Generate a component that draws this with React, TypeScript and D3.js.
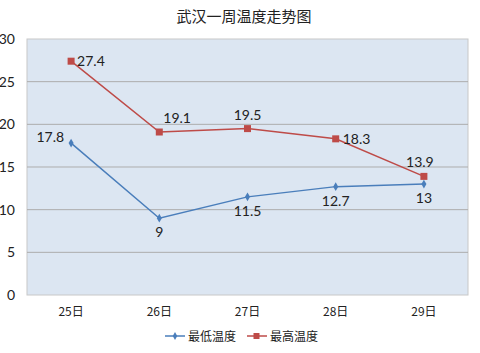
import React from 'react';
import * as d3 from 'd3';

const days = ['25日', '26日', '27日', '28日', '29日'];
const lowTemps = [17.8, 9, 11.5, 12.7, 13];
const highTemps = [27.4, 19.1, 19.5, 18.3, 13.9];
const yTicks = [0, 5, 10, 15, 20, 25, 30];

// label placement per point: [dx, dy, anchor]
const lowLabelPos: [number, number, string][] = [
  [-7, -1, 'end'], [0, 19, 'middle'], [0, 19, 'middle'], [0, 19, 'middle'], [0, 19, 'middle'],
];
const highLabelPos: [number, number, string][] = [
  [6, 5, 'start'], [4, -9, 'start'], [0, -9, 'middle'], [7, 5, 'start'], [-4, -9, 'middle'],
];

const W = 480;
const H = 353;
const font = 'Lato, "Open Sans", sans-serif';
const cjk = '"Noto Sans CJK SC", sans-serif';

export default function App() {
  const left = 27, right = 468, top = 39, bottom = 295;
  const x = d3.scaleBand<string>().domain(days).range([left, right]);
  const y = d3.scaleLinear().domain([0, 30]).range([bottom, top]);
  const cx = (d: string) => (x(d) ?? 0) + x.bandwidth() / 2;

  const line = d3.line<number>()
    .x((_, i) => cx(days[i]))
    .y(d => y(d));

  const blue = '#4a7ebb';
  const red = '#be4b48';

  return (
    <svg width={W} height={H} style={{ position: 'absolute', left: 0, top: 0, background: '#fff' }}>
      <text x={244} y={22} textAnchor="middle" fontFamily={cjk} fontSize={15} fill="#222">武汉一周温度走势图</text>
      <rect x={left} y={top} width={right - left} height={bottom - top} fill="#dce6f2" stroke="#c8c8c8" />
      {yTicks.map(t => (
        <g key={t}>
          {t > 0 && t < 30 && (
            <line x1={left} x2={right} y1={y(t)} y2={y(t)} stroke="#adadad" strokeWidth={1} />
          )}
          <text x={15} y={y(t) + 5} textAnchor="end" fontFamily={font} fontSize={14} fill="#222">{t}</text>
        </g>
      ))}
      {days.map(d => (
        <text key={d} x={cx(d)} y={316} textAnchor="middle" fontFamily={cjk} fontSize={12} fill="#222">{d}</text>
      ))}
      <path d={line(lowTemps) ?? ''} fill="none" stroke={blue} strokeWidth={1.5} />
      <path d={line(highTemps) ?? ''} fill="none" stroke={red} strokeWidth={1.5} />
      {lowTemps.map((v, i) => (
        <g key={'l' + i}>
          <path d={d3.symbol(d3.symbolDiamond, 22)() ?? ''} transform={`translate(${cx(days[i])},${y(v)})`} fill={blue} />
          <text x={cx(days[i]) + lowLabelPos[i][0]} y={y(v) + lowLabelPos[i][1]} textAnchor={lowLabelPos[i][2]}
            fontFamily={font} fontSize={14} fill="#222">{v}</text>
        </g>
      ))}
      {highTemps.map((v, i) => (
        <g key={'h' + i}>
          <rect x={cx(days[i]) - 3.5} y={y(v) - 3.5} width={7} height={7} fill={red} />
          <text x={cx(days[i]) + highLabelPos[i][0]} y={y(v) + highLabelPos[i][1]} textAnchor={highLabelPos[i][2]}
            fontFamily={font} fontSize={14} fill="#222">{v}</text>
        </g>
      ))}
      <g transform="translate(165,336)">
        <line x1={0} x2={20} y1={0} y2={0} stroke={blue} strokeWidth={1.5} />
        <path d={d3.symbol(d3.symbolDiamond, 18)() ?? ''} transform="translate(10,0)" fill={blue} />
        <text x={23} y={5} fontFamily={cjk} fontSize={12} fill="#222">最低温度</text>
        <line x1={82} x2={102} y1={0} y2={0} stroke={red} strokeWidth={1.5} />
        <rect x={88.5} y={-3} width={6} height={6} fill={red} />
        <text x={105} y={5} fontFamily={cjk} fontSize={12} fill="#222">最高温度</text>
      </g>
    </svg>
  );
}
